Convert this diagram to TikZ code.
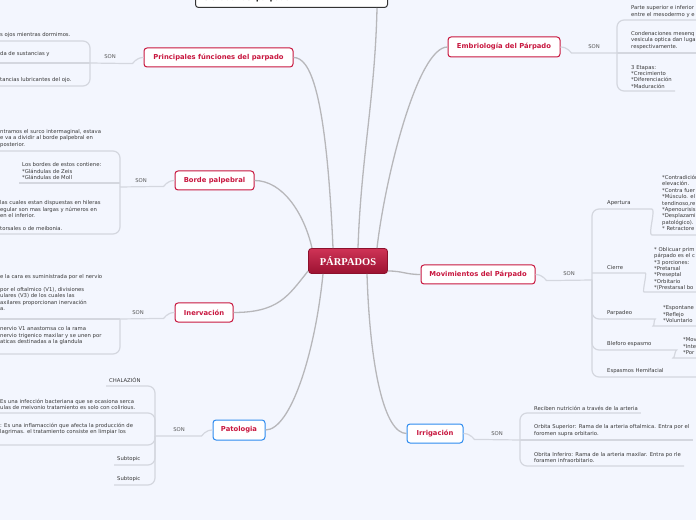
\documentclass[tikz,border=0pt]{standalone}
\usepackage{fontspec}
\setmainfont{DejaVu Sans}
\newfontfamily\titlefont{Liberation Serif}

\definecolor{bgblue}{HTML}{F3F6FE}
\definecolor{mmred}{HTML}{C8173F}
\definecolor{mmblue}{HTML}{2D8BEF}
\definecolor{linkgray}{HTML}{B7B7BA}
\definecolor{twiggray}{HTML}{D4D7DF}

\begin{document}
\begin{tikzpicture}[x=1pt, y=1pt,
    mmtopic/.style={draw=mmred, line width=1pt, fill=white, rounded corners=3pt,
        text=mmred, font=\fontsize{6.8}{8}\selectfont\bfseries, minimum height=19pt, inner sep=0pt},
    mmbluetopic/.style={mmtopic, draw=mmblue},
    sonlabel/.style={font=\fontsize{5.3}{6}\selectfont, text=black!65, inner sep=0pt},
    leaf/.style={font=\fontsize{5.3}{6.4}\selectfont, text=black!78, align=left,
        inner xsep=3pt, inner ysep=3.3pt},
    branchline/.style={linkgray, line width=1.3pt},
    twigline/.style={twiggray, line width=1.2pt, rounded corners=7pt}]

    % Page and background
    \useasboundingbox (0,0) rectangle (696,520);
    \clip (0,0) rectangle (696,520);
    \fill[bgblue] (0,0) rectangle (696,520);

    % Central topic
    \node[draw=mmred!70!black, line width=0.8pt, rounded corners=3pt,
        top color=mmred!88!white, bottom color=mmred!78!black, text=white,
        font=\titlefont\fontsize{10.5}{12}\selectfont\bfseries,
        minimum width=79pt, minimum height=25pt] (parp) at (348,259) {PÁRPADOS};

    % Main topics
    \node[draw=black!80, line width=1pt, fill=white, rounded corners=3pt,
        font=\fontsize{7.2}{8.6}\selectfont\bfseries, text width=176pt, align=left,
        inner xsep=8pt, inner ysep=5pt, anchor=south west] (musc) at (195,512) {elevador del párpado};
    \node[mmtopic, minimum width=149pt] (prin) at (218.5,462.5) {Principales fúnciones del parpado};
    \node[mmtopic, minimum width=79pt] (bord) at (214.5,339.5) {Borde palpebral};
    \node[mmtopic, minimum width=58pt] (inerv) at (204,207.5) {Inervación};
    \node[mmbluetopic, minimum width=52pt, minimum height=20pt] (pat) at (239,90) {Patologia};
    \node[mmtopic, minimum width=112pt, minimum height=20pt] (emb) at (504,473) {Embriología del Párpado};
    \node[mmtopic, minimum width=114pt] (mov) at (478,245.5) {Movimientos del Párpado};
    \node[mmbluetopic, minimum width=56pt] (irr) at (435,86.5) {Irrigación};

    % Branches from the centre
    \draw[branchline] (prin.east) .. controls +(16,0) and +(-7,160) .. ([xshift=-15pt]parp.north);
    \draw[branchline] (bord.east) .. controls +(28,0) and +(-8,35) .. ([xshift=-36pt]parp.north);
    \draw[branchline] ([xshift=10pt]parp.north) .. controls +(3,90) and +(-2,-90) .. ([xshift=-11pt]musc.south east);
    \draw[branchline] ([xshift=29pt]parp.north) .. controls +(8,70) and +(-30,0) .. (emb.west);
    \draw[branchline] ([yshift=-10pt]parp.east) .. controls +(15,0) and +(-15,0) .. (mov.west);
    \draw[branchline] ([xshift=19pt]parp.south) .. controls +(3,-95) and +(-22,0) .. (irr.west);
    \draw[branchline] ([xshift=-25pt]parp.south) .. controls +(-8,-80) and +(25,0) .. (pat.east);
    \draw[branchline] ([yshift=-10pt]parp.west) .. controls +(-20,-25) and +(45,0) .. (inerv.east);

    % SON labels and junctions
    \node[sonlabel] (prinson) at (110,463) {SON};
    \node[sonlabel] (bordson) at (141,339) {SON};
    \node[sonlabel] (inson) at (138,207) {SON};
    \node[sonlabel] (patson) at (179,90) {SON};
    \node[sonlabel] (embson) at (594,473) {SON};
    \node[sonlabel] (movson) at (569,246) {SON};
    \node[sonlabel] (irrson) at (497,86) {SON};
    \coordinate (prinj) at (90,457);
    \coordinate (bordj) at (120,333);
    \coordinate (inj) at (120,201);
    \coordinate (patj) at (155,84);
    \coordinate (embj) at (617,467);
    \coordinate (movj) at (592,240);
    \coordinate (irrj) at (520,80);

    % Principales funciones
    \node[leaf, anchor=south west] (pr1) at (-3,479) {s ojos mientras dormimos.};
    \node[leaf, anchor=south west, inner ysep=6pt] (pr2) at (-3,457) {da de sustancias y};
    \node[leaf, anchor=south west] (pr3) at (-3,434) {tancias lubricantes del ojo.};
    \draw[twigline] (prin.west) to[out=180,in=0] ++(-18,-6) -- (prinj);
    \draw[twigline] (prinj) -- (pr2.south west);
    \foreach \nd in {pr1,pr3} \draw[twigline] (prinj) |- (\nd.south west);

    % Borde palpebral
    \node[leaf, anchor=south west] (bo1) at (-3,369) {ntramos el surco intermaginal, estava\\e va a dividir al borde palpebral en\\posterior.};
    \node[leaf, anchor=south west] (bo2) at (19,337) {Los bordes de estos contiene:\\*Glándulas de Zeis\\*Glándulas de Moll};
    \node[leaf, anchor=south west] (bo3) at (-3,286) {las cuales estan dispuestas en hileras\\egular son mas largas y números en\\en el inferior.\\[6.4pt]torsales o de meibonia.};
    \draw[twigline] (bord.west) to[out=180,in=0] ++(-18,-6) -- (bordj);
    \draw[twigline] (bordj |- bo2.south west) -- (bo2.south west);
    \foreach \nd in {bo1,bo3} \draw[twigline] (bordj) |- (\nd.south west);

    % Inervacion
    \node[leaf, anchor=south west, inner ysep=8pt] (in1) at (-3,201) {e la cara es suministrada por el nervio\\[6.4pt]por el oftalmico (V1), divisiones\\ulares (V3) de los cuales las\\axilares proporcionan inervación\\a.};
    \node[leaf, anchor=south west, inner ysep=9pt] (in2) at (-3,166) {nervio V1 anastomsa co la rama\\nervio trigenico maxilar y se unen por\\aticas destinadas a la glandula};
    \draw[twigline] (inerv.west) to[out=180,in=0] ++(-18,-6) -- (inj);
    \draw[twigline] (inj) -- (in1.south west);
    \draw[twigline] (inj) |- (in2.south west);

    % Patologia
    \node[leaf, anchor=south west] (pa1) at (106,134) {CHALAZIÓN};
    \node[leaf, anchor=south west] (pa2) at (-3,107) {Es una infección bacteriana que se ocasiona serca\\ulas de meivonio tratamiento es solo con colirious.};
    \node[leaf, anchor=south west, inner ysep=10pt] (pa3) at (-3,75) {: Es una inflamacción que afecta la producción de\\lagrimas. el tratamiento consiste en limpiar los};
    \node[leaf, anchor=south west] (pa4) at (114,55) {Subtopic};
    \node[leaf, anchor=south west] (pa5) at (114,35) {Subtopic};
    \draw[twigline] (pat.west) to[out=180,in=0] ++(-18,-6) -- (patj);
    \foreach \nd in {pa1,pa2,pa3,pa4,pa5} \draw[twigline] (patj) |- (\nd.south west);

    % Embriologia
    \node[leaf, anchor=south west, inner ysep=2.5pt] (em1) at (628,500) {Parte superior e inferior\\entre el mesodermo y e};
    \node[leaf, anchor=south west] (em2) at (628,467) {Condenaciones mesenq\\vesicula optica dan luga\\respectivamente.};
    \node[leaf, anchor=south west, inner ysep=2.5pt] (em3) at (628,429) {3 Etapas:\\*Crecimiento\\*Diferenciación\\*Maduración};
    \draw[twigline] (emb.east) to[out=0,in=180] ++(18,-6) -- (embj);
    \draw[twigline] (embj) -- (em2.south east);
    \foreach \nd in {em1,em3} \draw[twigline] (embj) |- (\nd.south east);

    % Movimientos
    \node[leaf, anchor=south west] (ap) at (604,311) {Apertura};
    \node[leaf, anchor=south west, inner ysep=4pt] (apb) at (659,285) {*Contradición\\elevación.\\*Contra fuer\\*Músculo. el\\tendinoso,re\\*Apenourisis\\*Desplazami\\patológico).\\* Retractore};
    \node[leaf, anchor=south west] (ci) at (604,247) {Cierre};
    \node[leaf, anchor=south west, inner ysep=1.5pt] (cib) at (651,228) {* Oblicuar prim\\párpado es el c\\*3 porciones:\\*Pretarsal\\*Preseptal\\*Orbitario\\*(Prestarsal bo};
    \node[leaf, anchor=south west] (pp) at (604,201) {Parpadeo};
    \node[leaf, anchor=south west] (ppb) at (660,194) {*Espontane\\*Reflejo\\*Voluntario};
    \node[leaf, anchor=south west] (bl) at (604,170) {Bleforo espasmo};
    \node[leaf, anchor=south west] (blb) at (680,162) {*Mov\\*Inte\\*Por};
    \node[leaf, anchor=south west] (es) at (604,143) {Espasmos Hemifacial};
    \draw[twigline] (mov.east) to[out=0,in=180] ++(18,-6) -- (movj);
    \draw[twigline] (movj) |- ([xshift=11pt]ap.south east) to[out=0,in=180] (apb.south west) -- (apb.south east);
    \draw[twigline] (movj |- ci.south west) -- ([xshift=12pt]ci.south east) to[out=0,in=180] (cib.south west) -- (cib.south east);
    \draw[twigline] (movj) |- ([xshift=13pt]pp.south east) to[out=0,in=180] (ppb.south west) -- (ppb.south east);
    \draw[twigline] (movj) |- ([xshift=15pt]bl.south east) to[out=0,in=180] (blb.south west) -- (blb.south east);
    \draw[twigline] (movj) |- ([xshift=40pt]es.south east);

    % Irrigacion
    \node[leaf, anchor=south west, inner ysep=2.5pt] (ir1) at (531,107) {Reciben nutrición a través de la arteria};
    \node[leaf, anchor=south west] (ir2) at (531,80) {Orbita Superior: Rama de la arteria oftalmica. Entra por el\\foromen supra orbitario.};
    \node[leaf, anchor=south west] (ir3) at (531,54) {Obrita Inferiro: Rama de la arteria maxilar. Entra po rle\\foramen infraorbitario.};
    \draw[twigline] (irr.east) to[out=0,in=180] ++(18,-6) -- (irrj);
    \draw[twigline] (irrj) -- (ir2.south east);
    \foreach \nd in {ir1,ir3} \draw[twigline] (irrj) |- (\nd.south east);
\end{tikzpicture}
\end{document}
